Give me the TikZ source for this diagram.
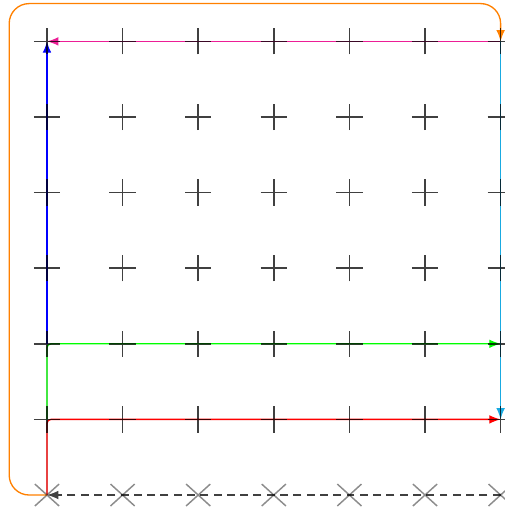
\documentclass[tikz,border=0pt]{standalone}
\usetikzlibrary{shapes.misc,arrows.meta}
\definecolor{cRed}{RGB}{255,0,0}
\definecolor{cGreen}{RGB}{0,255,0}
\definecolor{cBlue}{RGB}{0,0,255}
\definecolor{cMag}{RGB}{236,30,150}
\definecolor{cCyan}{RGB}{25,170,225}
\definecolor{cOrange}{RGB}{255,128,0}
\begin{document}
\begin{tikzpicture}[
  plusmark/.style={cross out,draw=black,draw opacity=0.75,line width=1.1pt,rotate=45,minimum size=0.49cm,inner sep=0pt,outer sep=0pt},
  xmark/.style={cross out,draw=black,draw opacity=0.45,line width=1.1pt,minimum width=0.64cm,minimum height=0.58cm,inner sep=0pt,outer sep=0pt},
  conn/.style={line width=1pt,-{Latex[length=3mm,width=2.3mm]}},
]
\useasboundingbox (-1.243,-0.317) rectangle (12.116,13.095);
% named positions of the grid
\foreach \i in {0,...,6}{
  \foreach \j in {0,...,6}{
    \coordinate (g\i\j) at (2*\i,2*\j);
  }
}
% light underlay
\draw[black!25,line width=1.4pt] (g00) -- (g02);
% connectors
\draw[conn,dash pattern=on 6pt off 4pt,color=black!75] (g60) -- (g00);
\draw[conn,color=cRed,rounded corners=3pt] (g00) |- (g61);
\draw[conn,color=cGreen,rounded corners=3pt] (g01) |- (g62);
\draw[conn,color=cBlue] (g02) -- (g06);
\draw[conn,color=cMag] (g66) -- (g06);
\draw[conn,color=cCyan] (g66) -- (g61);
\coordinate (oa) at (-1,0);
\coordinate (ob) at (12,13);
\draw[conn,color=cOrange,rounded corners=15pt] (g00) -- (oa) |- (ob) -- (g66);
% marks on top
\foreach \i in {0,...,6}{
  \foreach \j in {1,...,6}{
    \node[plusmark] (p\i\j) at (g\i\j) {};
  }
  \node[xmark] (p\i0) at (g\i0) {};
}
\end{tikzpicture}
\end{document}
